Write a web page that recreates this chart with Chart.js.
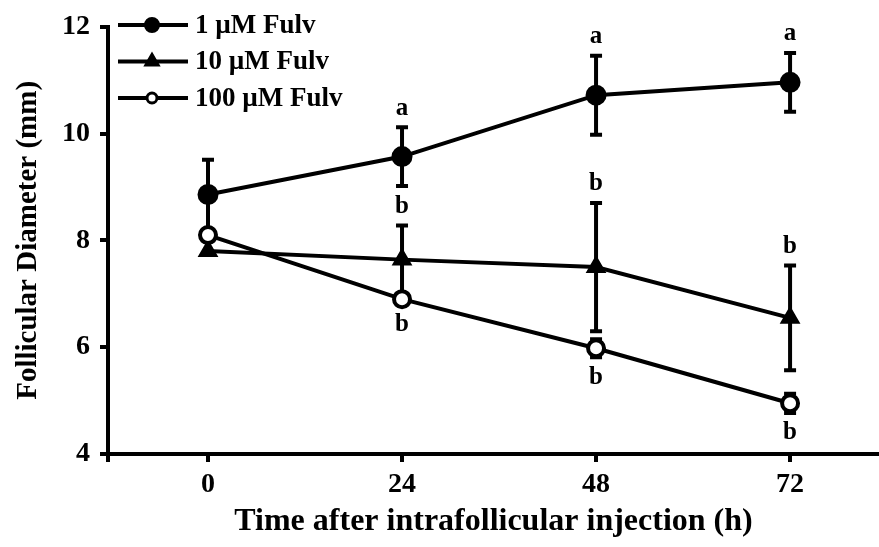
<!DOCTYPE html>
<html lang="en">
<head>
    <meta charset="UTF-8">
    <title>Follicular Diameter</title>
    <script src="https://cdn.jsdelivr.net/npm/chart.js"></script>
    <style>
        body, html {
            margin: 0;
            padding: 0;
            background-color: #fff;
            overflow: hidden;
        }
        .chart-box {
            width: 879px;
            height: 547px;
        }
    </style>
</head>
<body>
    <div class="chart-box">
        <canvas id="diameterChart" width="879" height="547"></canvas>
    </div>
    <script>
        const times = [0, 24, 48, 72];
        const yTicks = [4, 6, 8, 10, 12];

        const fulv1 = [8.86, 9.57, 10.72, 10.96];
        const fulv1Err = [0.65, 0.55, 0.74, 0.55];
        const fulv1Sig = ['', 'a', 'a', 'a'];

        const fulv10 = [7.8, 7.64, 7.5, 6.55];
        const fulv10Err = [0, 0.64, 1.2, 0.98];
        const fulv10Sig = ['', 'b', 'b', 'b'];

        const fulv100 = [8.1, 6.9, 5.98, 4.95];
        const fulv100Err = [0, 0, 0.17, 0.18];
        const fulv100Sig = ['', 'b', 'b', 'b'];

        const serif = "'Liberation Serif', 'Times New Roman', serif";

        function points(values) {
            return times.map((t, i) => ({ x: t, y: values[i] }));
        }

        // error bars go under the markers
        const errorBars = {
            id: 'errorBars',
            beforeDatasetsDraw(chart) {
                const { ctx, scales: { x, y } } = chart;
                ctx.save();
                ctx.strokeStyle = '#000';
                ctx.lineWidth = 4;
                chart.data.datasets.forEach(ds => {
                    ds.errors.forEach((e, i) => {
                        if (!e) return;
                        const px = x.getPixelForValue(times[i]);
                        const hi = y.getPixelForValue(ds.data[i].y + e);
                        const lo = y.getPixelForValue(ds.data[i].y - e);
                        ctx.beginPath();
                        ctx.moveTo(px, hi);
                        ctx.lineTo(px, lo);
                        ctx.moveTo(px - 6, hi);
                        ctx.lineTo(px + 6, hi);
                        ctx.moveTo(px - 6, lo);
                        ctx.lineTo(px + 6, lo);
                        ctx.stroke();
                    });
                });
                ctx.restore();
            }
        };

        // significance letters above / below the bars
        const sigLetters = {
            id: 'sigLetters',
            afterDatasetsDraw(chart) {
                const { ctx, scales: { x, y } } = chart;
                ctx.save();
                ctx.fillStyle = '#000';
                ctx.font = 'bold 25px ' + serif;
                ctx.textAlign = 'center';
                ctx.textBaseline = 'middle';
                chart.data.datasets.forEach(ds => {
                    ds.sig.forEach((s, i) => {
                        if (!s) return;
                        const px = x.getPixelForValue(times[i]);
                        const v = ds.data[i].y;
                        const e = ds.errors[i];
                        let py;
                        if (ds.sigBelow) {
                            py = Math.max(y.getPixelForValue(v - e) + 20, y.getPixelForValue(v) + 25);
                        } else {
                            py = y.getPixelForValue(v + e) - 19;
                        }
                        ctx.fillText(s, px, py);
                    });
                });
                ctx.restore();
            }
        };

        const lineLegend = {
            id: 'lineLegend',
            afterDraw(chart) {
                const ctx = chart.ctx;
                chart.data.datasets.forEach((ds, i) => {
                    const ly = 25 + i * 36.5;
                    ctx.save();
                    ctx.strokeStyle = '#000';
                    ctx.lineWidth = 4;
                    ctx.beginPath();
                    ctx.moveTo(118, ly);
                    ctx.lineTo(188, ly);
                    ctx.stroke();
                    ctx.fillStyle = ds.pointBackgroundColor;
                    ctx.lineWidth = ds.legendBorder;
                    Chart.helpers.drawPoint(ctx, {
                        pointStyle: ds.pointStyle,
                        rotation: 0,
                        radius: ds.legendRadius,
                        borderWidth: ds.legendBorder
                    }, 152, ly);
                    ctx.fillStyle = '#000';
                    ctx.font = 'bold 27px ' + serif;
                    ctx.textAlign = 'left';
                    ctx.textBaseline = 'middle';
                    ctx.fillText(ds.label, 195, ly + 1);
                    ctx.restore();
                });
            }
        };

        new Chart(document.getElementById('diameterChart'), {
            type: 'line',
            data: {
                datasets: [
                    {
                        label: '1 µM Fulv',
                        data: points(fulv1),
                        errors: fulv1Err,
                        sig: fulv1Sig,
                        borderColor: '#000',
                        borderWidth: 4,
                        pointStyle: 'circle',
                        pointRadius: 9,
                        pointBorderWidth: 3,
                        pointBackgroundColor: '#000',
                        pointBorderColor: '#000',
                        legendRadius: 7,
                        legendBorder: 2,
                        order: 1
                    },
                    {
                        label: '10 µM Fulv',
                        data: points(fulv10),
                        errors: fulv10Err,
                        sig: fulv10Sig,
                        borderColor: '#000',
                        borderWidth: 4,
                        pointStyle: 'triangle',
                        pointRadius: 10,
                        pointBorderWidth: 2,
                        pointBackgroundColor: '#000',
                        pointBorderColor: '#000',
                        legendRadius: 8,
                        legendBorder: 2,
                        order: 2
                    },
                    {
                        label: '100 µM Fulv',
                        data: points(fulv100),
                        errors: fulv100Err,
                        sig: fulv100Sig,
                        sigBelow: true,
                        borderColor: '#000',
                        borderWidth: 4,
                        pointStyle: 'circle',
                        pointRadius: 8,
                        pointBorderWidth: 4,
                        pointBackgroundColor: '#fff',
                        pointBorderColor: '#000',
                        legendRadius: 5,
                        legendBorder: 3,
                        order: 0
                    }
                ]
            },
            options: {
                responsive: false,
                animation: false,
                devicePixelRatio: 1,
                layout: { autoPadding: false, padding: { top: 24, right: 0, bottom: 0, left: 0 } },
                plugins: {
                    legend: { display: false },
                    tooltip: { enabled: false }
                },
                scales: {
                    x: {
                        type: 'linear',
                        min: -12.37,
                        max: 83,
                        afterBuildTicks: s => { s.ticks = [s.min].concat(times).map(v => ({ value: v })); },
                        afterFit: s => { s.height = 93; },
                        ticks: {
                            color: '#000',
                            padding: 6,
                            font: { family: serif, size: 28, weight: 'bold' },
                            callback: v => times.includes(v) ? String(v) : ''
                        },
                        grid: { drawOnChartArea: false, tickLength: 8, tickWidth: 4, tickColor: '#000', lineWidth: 4 },
                        border: { color: '#000', width: 4 },
                        title: {
                            display: true,
                            text: 'Time after intrafollicular injection (h)',
                            color: '#000',
                            font: { family: serif, size: 32, weight: 'bold' },
                            padding: { top: 0, bottom: 6 }
                        }
                    },
                    y: {
                        min: 4,
                        max: 12,
                        afterBuildTicks: s => { s.ticks = yTicks.map(v => ({ value: v })); },
                        afterFit: s => { s.width = 108; },
                        ticks: {
                            color: '#000',
                            padding: 10,
                            font: { family: serif, size: 28, weight: 'bold' }
                        },
                        grid: { drawOnChartArea: false, tickLength: 8, tickWidth: 4, tickColor: '#000', lineWidth: 4 },
                        border: { color: '#000', width: 4 },
                        title: {
                            display: true,
                            text: 'Follicular Diameter (mm)',
                            color: '#000',
                            font: { family: serif, size: 29, weight: 'bold' },
                            padding: { top: 11, bottom: 0 }
                        }
                    }
                }
            },
            plugins: [errorBars, sigLetters, lineLegend]
        });
    </script>
</body>
</html>
